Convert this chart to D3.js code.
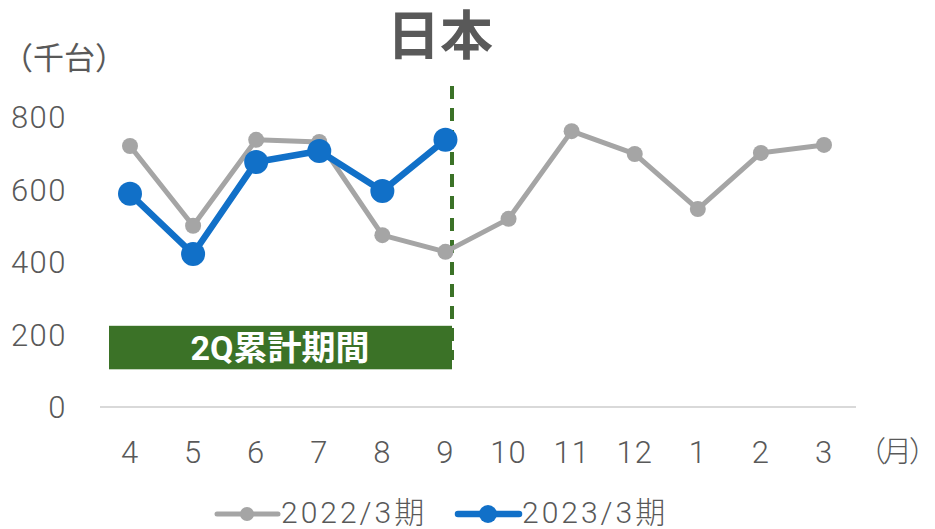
<!DOCTYPE html>
<html>
<head>
<meta charset="utf-8">
<script src="https://cdn.jsdelivr.net/npm/d3@7"></script>
<style>
  body { margin: 0; background: #fff; }
  text { font-family: "Roboto", "Noto Sans CJK JP", sans-serif; fill: #595959; }
</style>
</head>
<body>
<svg id="chart"></svg>
<script>
const months = ['4', '5', '6', '7', '8', '9', '10', '11', '12', '1', '2', '3'];
const fy2022 = [720, 500, 737, 731, 474, 428, 519, 761, 698, 546, 701, 723];
const fy2023 = [588, 422, 676, 706, 596, 737];
const yTicks = [0, 200, 400, 600, 800];
const seriesNames = ['2022/3期', '2023/3期'];

const w = 935, h = 529;

const xScale = d3.scalePoint()
    .domain(months)
    .range([130, 824]);

const yScale = d3.scaleLinear()
    .domain([0, 800])
    .range([407, 117]);

const chart = d3.select('#chart')
    .attr('width', w)
    .attr('height', h);

// title
chart.append('text')
    .attr('x', 440)
    .attr('y', 55)
    .attr('text-anchor', 'middle')
    .style('font-size', '53px')
    .style('font-weight', 'bold')
    .text('日本');

// y unit
chart.append('text')
    .attr('x', 2)
    .attr('y', 69)
    .style('font-size', '31px')
    .text('（千台）');

// y labels
chart.append('g')
    .selectAll('text')
    .data(yTicks)
    .join('text')
    .attr('x', 67)
    .attr('y', d => yScale(d))
    .attr('dy', '0.36em')
    .attr('text-anchor', 'end')
    .style('font-size', '31px')
    .style('font-weight', 300)
    .style('letter-spacing', '1.5px')
    .text(d => d);

// baseline
chart.append('line')
    .attr('x1', 100)
    .attr('x2', 856)
    .attr('y1', yScale(0))
    .attr('y2', yScale(0))
    .style('stroke', '#d9d9d9')
    .style('stroke-width', 2);

// x labels
chart.append('g')
    .selectAll('text')
    .data(months)
    .join('text')
    .attr('x', d => xScale(d))
    .attr('y', 452)
    .attr('dy', '0.36em')
    .attr('text-anchor', 'middle')
    .style('font-size', '31px')
    .style('font-weight', 300)
    .style('letter-spacing', '1px')
    .text(d => d);

chart.append('text')
    .attr('x', 857)
    .attr('y', 452)
    .attr('dy', '0.36em')
    .style('font-size', '29px')
    .style('font-weight', 300)
    .style('letter-spacing', '-3px')
    .text('（月）');

// 2Q box
const boxLeft = xScale('4') - 21;
chart.append('rect')
    .attr('x', boxLeft)
    .attr('y', yScale(224))
    .attr('width', 452 - boxLeft)
    .attr('height', yScale(104) - yScale(224))
    .style('fill', '#3b7227');

chart.append('text')
    .attr('x', 280)
    .attr('y', yScale(164))
    .attr('dy', '0.36em')
    .attr('text-anchor', 'middle')
    .style('font-size', '34px')
    .style('font-weight', 'bold')
    .style('fill', '#fff')
    .text('2Q累計期間');

// dashed divider
chart.append('line')
    .attr('x1', 452)
    .attr('x2', 452)
    .attr('y1', 86)
    .attr('y2', 360)
    .style('stroke', '#3b7227')
    .style('stroke-width', 4)
    .style('stroke-dasharray', '13,9');

const line = d3.line()
    .x((d, i) => xScale(months[i]))
    .y(d => yScale(d));

const drawSeries = (data, color, width, r) => {
    chart.append('path')
        .datum(data)
        .attr('d', line)
        .style('fill', 'none')
        .style('stroke', color)
        .style('stroke-width', width)
        .style('stroke-linejoin', 'round');

    chart.append('g')
        .selectAll('circle')
        .data(data)
        .join('circle')
        .attr('cx', (d, i) => xScale(months[i]))
        .attr('cy', d => yScale(d))
        .attr('r', r)
        .style('fill', color);
}

drawSeries(fy2022, '#a5a5a5', 5, 8);
drawSeries(fy2023, '#1170c8', 6.5, 12);

// legend
const legendItems = [
    {name: seriesNames[0], color: '#a5a5a5', x: 217, width: 5, r: 7},
    {name: seriesNames[1], color: '#1170c8', x: 458, width: 6.5, r: 9}
];
const legend = chart.append('g');
legendItems.forEach(item => {
    legend.append('line')
        .attr('x1', item.x)
        .attr('x2', item.x + 61)
        .attr('y1', 514)
        .attr('y2', 514)
        .style('stroke', item.color)
        .style('stroke-width', item.width)
        .style('stroke-linecap', 'round');
    legend.append('circle')
        .attr('cx', item.x + 30)
        .attr('cy', 514)
        .attr('r', item.r)
        .style('fill', item.color);
    legend.append('text')
        .attr('x', item.x + 64)
        .attr('y', 512)
        .attr('dy', '0.36em')
        .style('font-size', '30px')
        .style('font-weight', 300)
        .style('letter-spacing', '3px')
        .text(item.name);
});
</script>
</body>
</html>
